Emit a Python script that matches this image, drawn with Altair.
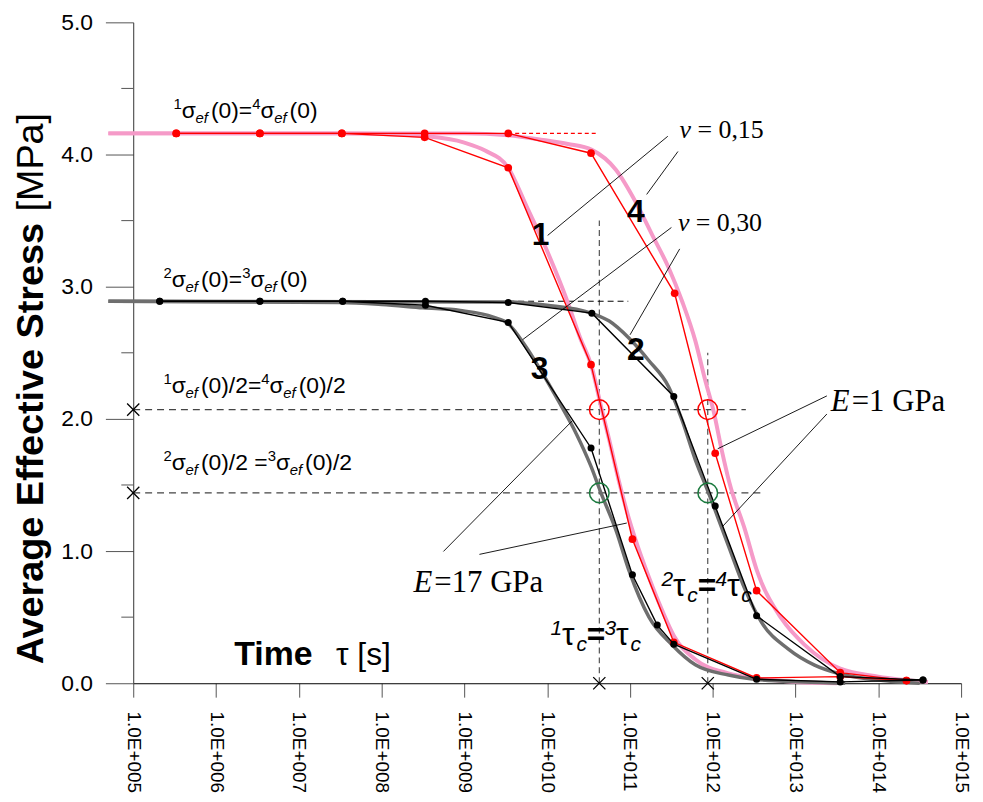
import altair as alt
import pandas as pd

# ---------------- data (log10 of time tau [s], stress [MPa]) ----------------
c1_exp = [5.52, 6.53, 7.52, 8.52, 9.53, 10.53, 11.03, 11.53, 12.53, 13.54, 14.34]
c1_val = [4.16, 4.16, 4.16, 4.13, 3.90, 2.41, 1.09, 0.31, 0.04, 0.05, 0.02]
c4_exp = [5.52, 6.53, 7.52, 8.52, 9.53, 10.53, 11.54, 12.03, 12.53, 13.54, 14.34]
c4_val = [4.16, 4.16, 4.16, 4.16, 4.16, 4.01, 2.95, 1.74, 0.70, 0.08, 0.02]
c3_exp = [5.32, 6.53, 7.53, 8.53, 9.53, 10.53, 11.03, 11.33, 11.53, 12.53, 13.54, 14.54]
c3_val = [2.89, 2.89, 2.89, 2.86, 2.73, 1.78, 0.82, 0.44, 0.295, 0.03, 0.01, 0.025]
c2_exp = [5.32, 6.53, 7.53, 8.53, 9.53, 10.54, 11.53, 12.03, 12.53, 13.54, 14.54]
c2_val = [2.89, 2.89, 2.89, 2.89, 2.88, 2.80, 2.17, 1.34, 0.51, 0.05, 0.025]

pink1_exp = [4.7, 7.5, 8.0, 8.5, 9.0, 9.25, 9.53, 9.75, 10.0, 10.25, 10.4, 10.53, 10.66, 10.75,
             10.87, 10.99, 11.06, 11.23, 11.39, 11.53, 11.79, 12.19, 12.5, 13.0, 13.5]
pink1_val = [4.16, 4.16, 4.155, 4.14, 4.09, 4.03, 3.90, 3.61, 3.27, 2.88, 2.61, 2.41, 2.07, 1.84,
             1.52, 1.24, 1.10, 0.80, 0.55, 0.36, 0.18, 0.075, 0.04, 0.01, 0.0]
pink4_exp = [4.7, 9.0, 9.53, 9.95, 10.25, 10.54, 10.83, 11.07, 11.27, 11.47, 11.63, 11.79, 11.91,
             12.01, 12.11, 12.2, 12.39, 12.53, 12.59, 12.83, 13.11, 13.54, 14.0, 14.6]
pink4_val = [4.16, 4.16, 4.145, 4.11, 4.08, 4.035, 3.885, 3.64, 3.39, 3.14, 2.89, 2.59, 2.29,
             2.06, 1.76, 1.52, 1.16, 0.86, 0.76, 0.49, 0.29, 0.11, 0.05, 0.01]
gray3_exp = [4.7, 7.5, 8.0, 8.5, 8.95, 9.35, 9.53, 9.75, 9.91, 10.15, 10.35, 10.53, 10.65, 10.83,
             10.99, 11.23, 11.51, 11.79, 12.19, 12.5, 13.1, 13.6]
gray3_val = [2.89, 2.88, 2.865, 2.84, 2.82, 2.77, 2.72, 2.54, 2.38, 2.12, 1.89, 1.64, 1.44, 1.16,
             0.85, 0.50, 0.29, 0.14, 0.062, 0.03, 0.01, 0.0]
gray2_exp = [4.7, 9.5, 10.0, 10.53, 10.75, 10.99, 11.23, 11.47, 11.63, 11.79, 11.95, 12.07, 12.19,
             12.39, 12.59, 12.91, 13.23, 13.54, 14.0, 14.5]
gray2_val = [2.89, 2.885, 2.86, 2.80, 2.74, 2.61, 2.44, 2.24, 1.99, 1.69, 1.44, 1.24, 1.04,
             0.71, 0.46, 0.26, 0.137, 0.07, 0.025, 0.0]

sig0_nu15 = 4.16
sig0_nu30 = 2.89
half_nu15 = 2.07
half_nu30 = 1.44
tauc_exp = [10.63, 11.94]
tauc_top = [3.5, 2.5]

x_ticks = [1e5, 1e6, 1e7, 1e8, 1e9, 1e10, 1e11, 1e12, 1e13, 1e14, 1e15]
y_ticks = [0, 1, 2, 3, 4, 5]
y_minor = [0.5, 1.5, 2.5, 3.5, 4.5]

# leader lines (log10 tau, stress)
lead_x1 = [11.457, 11.580, 11.501, 11.601, 13.379, 13.379, 8.747, 9.182]
lead_y1 = [4.138, 4.023, 3.448, 3.286, 2.174, 2.037, 0.997, 0.975]
lead_x2 = [10.006, 11.202, 9.703, 11.001, 12.060, 12.120, 10.306, 10.962]
lead_y2 = [3.388, 3.698, 2.599, 2.636, 1.774, 1.187, 1.987, 1.212]

# curve numbers
num_txt = ["1", "4", "2", "3"]
num_exp = [9.92, 11.07, 11.07, 9.91]
num_val = [3.313, 3.486, 2.449, 2.299]

SANS = "Liberation Sans"
SERIF = "Liberation Serif"

xscale = alt.Scale(type="log", domain=[1e5, 1e15])
yscale = alt.Scale(domain=[0, 5])
xaxis = alt.Axis(values=x_ticks, labelAngle=90, labelAlign="left", labelBaseline="middle",
                 labelFontSize=19, labelFont=SANS, labelColor="black", tickSize=14,
                 labelPadding=14, grid=False, title=None, labelFlush=False, labelOverlap=False,
                 domainColor="black", tickColor="#555555",
                 labelExpr="'1.0E+' + pad(format(log(datum.value)/LN10, '.0f'), 3, '0', 'left')")
yaxis = alt.Axis(values=y_ticks, format=".1f", labelFontSize=23, labelFont=SANS,
                 labelColor="black", tickSize=28, labelPadding=13, grid=False, title=None,
                 domainColor="#333333", tickColor="#555555")


def X(f="tau"):
    return alt.X(f"{f}:Q", scale=xscale, axis=xaxis)


def Y(f="sig"):
    return alt.Y(f"{f}:Q", scale=yscale, axis=yaxis)


def df_of(exps, vals, name=""):
    return pd.DataFrame({"tau": [10 ** e for e in exps], "sig": vals, "series": name})


layers = []

# dashed reference lines
hdash = pd.DataFrame({"tau": [1e5, 1e5], "tau2": [10 ** 12.40, 10 ** 12.58],
                      "sig": [half_nu15, half_nu30]})
layers.append(alt.Chart(hdash).mark_rule(color="#444444", strokeDash=[7, 5], strokeWidth=1.1)
              .encode(x=X(), x2="tau2:Q", y=Y()))
vdash = pd.DataFrame({"tau": [10 ** e for e in tauc_exp], "sig": [0, 0], "sig2": tauc_top})
layers.append(alt.Chart(vdash).mark_rule(color="#444444", strokeDash=[6, 4], strokeWidth=1.1)
              .encode(x=X(), y=Y(), y2="sig2:Q"))
rdash = pd.DataFrame({"tau": [10 ** 9.53], "tau2": [10 ** 10.62], "sig": [sig0_nu15]})
layers.append(alt.Chart(rdash).mark_rule(color="red", strokeDash=[4, 3], strokeWidth=1.1)
              .encode(x=X(), x2="tau2:Q", y=Y()))
kdash = pd.DataFrame({"tau": [10 ** 9.53], "tau2": [10 ** 10.98], "sig": [sig0_nu30]})
layers.append(alt.Chart(kdash).mark_rule(color="black", strokeDash=[6, 4], strokeWidth=1)
              .encode(x=X(), x2="tau2:Q", y=Y()))

# smooth analytic curves
pink = pd.concat([df_of(pink1_exp, pink1_val, "p1"), df_of(pink4_exp, pink4_val, "p4")])
layers.append(alt.Chart(pink).mark_line(color="#f59ac8", strokeWidth=4, clip=False,
                                        interpolate="monotone")
              .encode(x=X(), y=Y(), detail="series:N"))
gray = pd.concat([df_of(gray3_exp, gray3_val, "g3"), df_of(gray2_exp, gray2_val, "g2")])
layers.append(alt.Chart(gray).mark_line(color="#6e6e6e", strokeWidth=3.5, clip=False,
                                        interpolate="monotone")
              .encode(x=X(), y=Y(), detail="series:N"))

# numerical polylines with markers
red = pd.concat([df_of(c1_exp, c1_val, "1"), df_of(c4_exp, c4_val, "4")])
blk = pd.concat([df_of(c3_exp, c3_val, "3"), df_of(c2_exp, c2_val, "2")])
layers.append(alt.Chart(red).mark_line(color="red", strokeWidth=1.4).encode(x=X(), y=Y(), detail="series:N"))
layers.append(alt.Chart(red).mark_circle(color="red", size=60, opacity=1).encode(x=X(), y=Y()))
layers.append(alt.Chart(blk).mark_line(color="black", strokeWidth=1.4).encode(x=X(), y=Y(), detail="series:N"))
layers.append(alt.Chart(blk).mark_circle(color="black", size=50, opacity=1).encode(x=X(), y=Y()))

# circles at half values
circ_r = pd.DataFrame({"tau": [10 ** e for e in tauc_exp], "sig": [half_nu15] * 2})
circ_g = pd.DataFrame({"tau": [10 ** e for e in tauc_exp], "sig": [half_nu30] * 2})
layers.append(alt.Chart(circ_r).mark_point(shape="circle", filled=False, size=390, color="red",
                                           strokeWidth=1.5, opacity=1).encode(x=X(), y=Y()))
layers.append(alt.Chart(circ_g).mark_point(shape="circle", filled=False, size=390, color="#1b7a3e",
                                           strokeWidth=1.5, opacity=1).encode(x=X(), y=Y()))

# crosses
crosses = pd.DataFrame({"tau": [1e5, 1e5] + [10 ** e for e in tauc_exp],
                        "sig": [half_nu15, half_nu30, 0, 0]})
layers.append(alt.Chart(crosses).mark_point(shape="M-1,-1L1,1M-1,1L1,-1", filled=False, size=150,
                                            color="black", strokeWidth=1.3, opacity=1, clip=False)
              .encode(x=X(), y=Y()))

# leader lines
lead = pd.DataFrame({"tau": [10 ** e for e in lead_x1], "sig": lead_y1,
                     "tau2": [10 ** e for e in lead_x2], "sig2": lead_y2})
layers.append(alt.Chart(lead).mark_rule(color="black", strokeWidth=0.9)
              .encode(x=X(), y=Y(), x2="tau2:Q", y2="sig2:Q"))

# minor ticks on y axis
minor = pd.DataFrame({"sig": y_minor})
layers.append(alt.Chart(minor).mark_rule(color="#555555", strokeWidth=1)
              .encode(y=Y(), x=alt.value(-12), x2=alt.value(0)))

# curve numbers
nums = pd.DataFrame({"tau": [10 ** e for e in num_exp], "sig": num_val, "txt": num_txt})
layers.append(alt.Chart(nums).mark_text(font=SANS, fontSize=32, fontWeight="bold", color="black",
                                        align="center", baseline="alphabetic")
              .encode(x=X(), y=Y(), text="txt:N"))

# ---------------- rich text helper ----------------
W_SANS = {"(": .333, ")": .333, "=": .584, "/": .278, " ": .278, "e": .556, "f": .278,
          "c": .5, "σ": .6, "τ": .45, "[": .278, "]": .278, "s": .5, "M": .833, "P": .667, "a": .556}
W_BOLD = {"A": .722, "v": .556, "e": .556, "r": .389, "a": .556, "g": .611, " ": .278,
          "E": .667, "f": .333, "c": .556, "t": .333, "i": .278, "S": .667, "s": .556,
          "T": .611, "m": .889}
W_SERIF = {"ν": .46, " ": .25, "=": .564, ",": .25, "E": .611, "G": .722, "P": .556, "a": .444}


def seg_w(txt, size, font, weight):
    if font == SERIF:
        tbl, d = W_SERIF, .5
    elif weight == "bold":
        tbl, d = W_BOLD, .556
    else:
        tbl, d = W_SANS, .556
    return sum(tbl.get(ch, d) for ch in txt) * size


def rich(segs, tau=None, sig=None, px=None, py=None, angle=0):
    out = []
    dx = 0.0
    for txt, size, dy, font, style, weight, gap in segs:
        dx += gap
        d = pd.DataFrame({"tau": [tau if tau is not None else 1.0],
                          "sig": [sig if sig is not None else 0.0], "txt": [txt]})
        mk = alt.Chart(d).mark_text(align="left", baseline="alphabetic", dx=dx, dy=dy,
                                    fontSize=size, font=font, fontStyle=style,
                                    fontWeight=weight, color="black", angle=angle)
        if px is not None:
            mk = mk.encode(x=alt.value(px), y=alt.value(py), text="txt:N")
        else:
            mk = mk.encode(x=X(), y=Y(), text="txt:N")
        out.append(mk)
        dx += seg_w(txt, size, font, weight)
    return out


def sg(a, b, tail, mid):
    B, S = 23, 15
    return [(a, S, -9, SANS, "normal", "normal", 0), ("σ", B, 0, SANS, "normal", "normal", 0),
            ("ef", S, 5, SANS, "italic", "normal", 0), (mid, B, 0, SANS, "normal", "normal", 3),
            (b, S, -9, SANS, "normal", "normal", 0), ("σ", B, 0, SANS, "normal", "normal", 0),
            ("ef", S, 5, SANS, "italic", "normal", 0), (tail, B, 0, SANS, "normal", "normal", 3)]


label_text_sig = [("1", "4", "(0)", "(0)="), ("2", "3", "(0)", "(0)="),
                  ("1", "4", "(0)/2", "(0)/2="), ("2", "3", "(0)/2", "(0)/2 =")]
label_sig_exp = [5.486, 5.366, 5.366, 5.366]
label_sig_val = [4.273, 3.0, 2.199, 1.612]
for (a, b, tail, mid), e, v in zip(label_text_sig, label_sig_exp, label_sig_val):
    layers += rich(sg(a, b, tail, mid), tau=10 ** e, sig=v)


def tc(a, b):
    B, S = 32, 21
    return [(a, S, -10, SANS, "italic", "normal", 0), ("τ", B, 0, SANS, "normal", "normal", 0),
            ("c", S, 6, SANS, "italic", "normal", 0), ("=", B, 0, SANS, "normal", "bold", 0),
            (b, S, -10, SANS, "italic", "normal", 0), ("τ", B, 0, SANS, "normal", "normal", 0),
            ("c", S, 6, SANS, "italic", "normal", 0)]


layers += rich(tc("1", "3"), tau=10 ** 10.04, sig=0.287)
layers += rich(tc("2", "4"), tau=10 ** 11.38, sig=0.662)

nu_txt = ["= 0,15", "= 0,30"]
nu_exp = [11.60, 11.58]
nu_val = [4.123, 3.423]
for t, e, v in zip(nu_txt, nu_exp, nu_val):
    layers += rich([("ν", 26, 0, SERIF, "italic", "normal", 0),
                    (t, 26, 0, SERIF, "normal", "normal", 6)], tau=10 ** e, sig=v)

E_txt = ["=1 GPa", "=17 GPa"]
E_exp = [13.427, 8.385]
E_val = [2.061, 0.692]
for t, e, v in zip(E_txt, E_exp, E_val):
    layers += rich([("E", 31, 0, SERIF, "italic", "normal", 0),
                    (t, 31, 0, SERIF, "normal", "normal", 2)], tau=10 ** e, sig=v)

# axis titles
layers += rich([("Time", 34, 0, SANS, "normal", "bold", 0),
                ("τ [s]", 32, 0, SANS, "normal", "normal", 23)], tau=10 ** 6.22, sig=0.136)
layers += rich([("Average Effective Stress", 38, 0, SANS, "normal", "bold", 0),
                ("[MPa]", 38, 0, SANS, "normal", "normal", 10)], px=-91, py=646, angle=270)

chart = alt.layer(*layers).properties(
    width=833, height=665,
    autosize=alt.AutoSizeParams(type="none"),
    padding={"left": 126, "top": 12, "right": 14, "bottom": 108},
).configure_view(stroke=None)

chart.save("out.html", embed_options={"renderer": "svg", "actions": False})
